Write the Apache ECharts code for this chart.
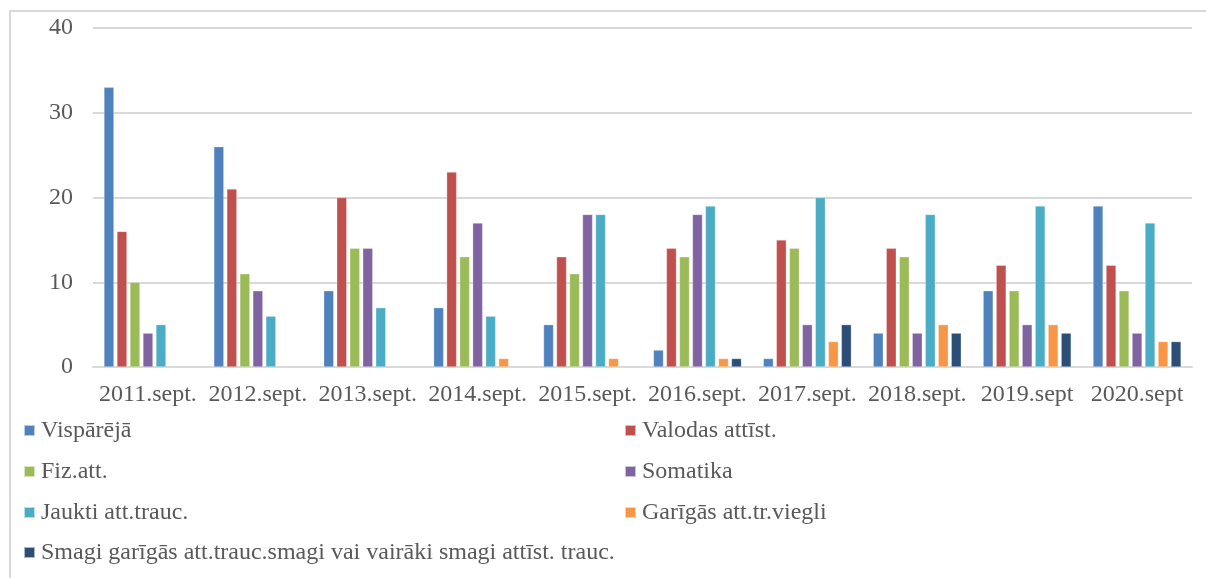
<!DOCTYPE html>
<html>
<head>
<meta charset="utf-8">
<script src="https://cdn.jsdelivr.net/npm/echarts@6/dist/echarts.min.js"></script>
<style>
  html, body { margin: 0; padding: 0; background: #fff; overflow: hidden; }
  #frame { position: absolute; left: 9px; top: 10px; width: 1300px; height: 700px; border: 2px solid #d9d9d9; box-sizing: border-box; }
  #chart { position: absolute; left: 0; top: 0; width: 1206px; height: 578px; }
</style>
</head>
<body>
<div id="frame"></div>
<div id="chart"></div>
<script>
// kategorijas
const categories = ['2011.sept.', '2012.sept.', '2013.sept.', '2014.sept.', '2015.sept.', '2016.sept.', '2017.sept.', '2018.sept.', '2019.sept', '2020.sept']

// sēriju nosaukumi
const seriesNames = [
  'Vispārējā',
  'Valodas attīst.',
  'Fiz.att.',
  'Somatika',
  'Jaukti att.trauc.',
  'Garīgās att.tr.viegli',
  'Smagi garīgās att.trauc.smagi vai vairāki smagi attīst. trauc.'
]

// vērtības
const vispareja = [33, 26, 9, 7, 5, 2, 1, 4, 9, 19]
const valodas = [16, 21, 20, 23, 13, 14, 15, 14, 12, 12]
const fiz = [10, 11, 14, 13, 11, 13, 14, 13, 9, 9]
const somatika = [4, 9, 14, 17, 18, 18, 5, 4, 5, 4]
const jaukti = [5, 6, 7, 6, 18, 19, 20, 18, 19, 17]
const garigasViegli = [null, null, null, 1, 1, 1, 3, 5, 5, 3]
const smagi = [null, null, null, null, null, 1, 5, 4, 4, 3]

const yTicks = [0, 10, 20, 30, 40]

const colors = ['#4F81BD', '#C0504D', '#9BBB59', '#8064A2', '#4BACC6', '#F79646', '#2C4D75']
const allValues = [vispareja, valodas, fiz, somatika, jaukti, garigasViegli, smagi]

const font = '"Liberation Serif", "Times New Roman", serif'

const chart = echarts.init(document.getElementById('chart'))

// leģenda divās kolonnās, katrs ieraksts atsevišķi
const legendPos = [
  [23, 429], [624, 429],
  [23, 470], [624, 470],
  [23, 511], [624, 511],
  [23, 551]
]
const legends = seriesNames.map((name, i) => ({
  data: [name],
  left: legendPos[i][0],
  top: legendPos[i][1] - 12,
  padding: 0,
  icon: 'rect',
  itemWidth: 11,
  itemHeight: 11,
  textStyle: { fontFamily: font, fontSize: 24, color: '#595959', lineHeight: 24, padding: [3, 0, 0, 1] }
}))

const option = {
  animation: false,
  color: colors,
  grid: { left: 93, right: 14, top: 28, bottom: 211 },
  legend: legends,
  xAxis: {
    type: 'category',
    data: categories,
    axisLine: { lineStyle: { color: '#d9d9d9', width: 2 } },
    axisTick: { show: false },
    axisLabel: { fontFamily: font, fontSize: 24, color: '#595959', margin: 16, interval: 0 }
  },
  yAxis: {
    type: 'value',
    min: yTicks[0],
    max: yTicks[yTicks.length - 1],
    interval: 10,
    axisLine: { show: false },
    axisTick: { show: false },
    splitLine: { lineStyle: { color: '#d9d9d9', width: 2 } },
    axisLabel: { fontFamily: font, fontSize: 24, color: '#595959', margin: 20 }
  },
  series: seriesNames.map((name, i) => ({
    name,
    type: 'bar',
    data: allValues[i],
    barWidth: 10,
    barGap: '30%',
    itemStyle: { borderColor: 'rgba(255,255,255,0.6)', borderWidth: 0.5 }
  }))
}

chart.setOption(option)
</script>
</body>
</html>
